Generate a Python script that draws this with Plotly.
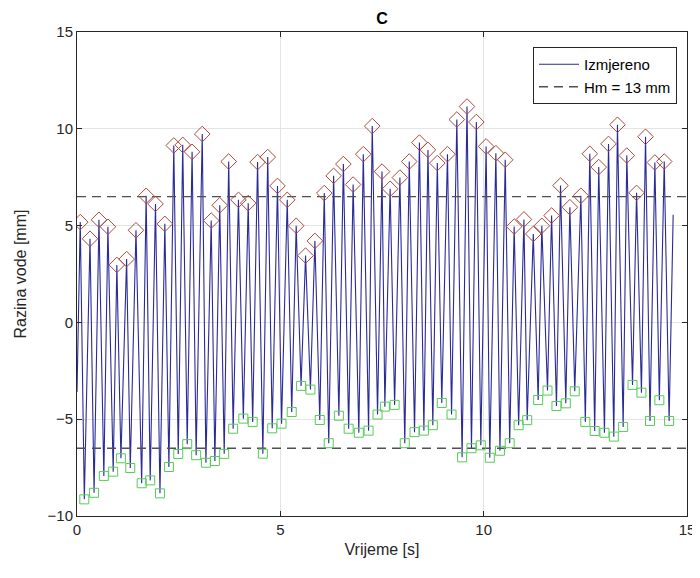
import plotly.graph_objects as go

# ---- data ----
peak_t = [0.08, 0.32, 0.54, 0.76, 0.98, 1.22, 1.45, 1.70, 1.93, 2.16, 2.38, 2.60, 2.83, 3.08,
          3.30, 3.51, 3.73, 3.97, 4.21, 4.44, 4.69, 4.93, 5.17, 5.39, 5.62, 5.85, 6.08, 6.31,
          6.55, 6.79, 7.04, 7.26, 7.50, 7.70, 7.94, 8.17, 8.42, 8.63, 8.86, 9.11, 9.34, 9.59,
          9.82, 10.06, 10.30, 10.53, 10.75, 10.99, 11.22, 11.43, 11.67, 11.89, 12.12, 12.39,
          12.61, 12.83, 13.07, 13.29, 13.52, 13.76, 13.98, 14.21, 14.44]
peak_v = [5.18, 4.32, 5.30, 4.94, 2.97, 3.27, 4.76, 6.54, 6.12, 5.09, 9.14, 9.17, 8.81, 9.73,
          5.26, 6.05, 8.31, 6.33, 6.16, 8.28, 8.54, 7.05, 6.33, 4.99, 3.45, 4.21, 6.68, 7.57,
          8.18, 7.12, 8.69, 10.14, 7.79, 6.90, 7.48, 8.31, 9.29, 8.91, 8.23, 8.69, 10.48, 11.15,
          10.35, 9.09, 8.74, 8.40, 4.95, 5.32, 4.57, 4.99, 5.52, 7.07, 5.95, 6.54,
          8.71, 8.02, 9.22, 10.21, 8.62, 6.69, 9.59, 8.26, 8.31]

trough_t = [0.18, 0.42, 0.66, 0.89, 1.08, 1.31, 1.59, 1.80, 2.04, 2.26, 2.49, 2.71, 2.93, 3.17,
            3.39, 3.62, 3.84, 4.09, 4.32, 4.57, 4.80, 5.03, 5.28, 5.51, 5.74, 5.97, 6.19, 6.44,
            6.68, 6.93, 7.17, 7.39, 7.57, 7.81, 8.06, 8.30, 8.53, 8.75, 8.97, 9.21, 9.47, 9.70,
            9.93, 10.15, 10.40, 10.64, 10.86, 11.07, 11.34, 11.57, 11.79, 12.02, 12.24, 12.50,
            12.73, 12.97, 13.20, 13.43, 13.66, 13.88, 14.09, 14.32, 14.56]
trough_v = [-9.14, -8.80, -7.93, -7.71, -7.02, -7.52, -8.31, -8.16, -8.83, -7.47, -6.80, -6.29,
            -6.86, -7.25, -7.16, -6.79, -5.49, -4.97, -5.14, -6.78, -5.47, -5.23, -4.63, -3.28,
            -3.47, -5.04, -6.24, -4.82, -5.49, -5.70, -5.59, -4.76, -4.35, -4.26, -6.24, -5.67,
            -5.59, -5.31, -4.16, -4.76, -6.97, -6.50, -6.35, -6.99, -6.63, -6.24, -5.31, -5.05,
            -4.01, -3.52, -4.32, -4.18, -3.56, -5.14, -5.61, -5.70, -5.90, -5.40, -3.23, -3.63,
            -5.09, -4.02, -5.09]

start_t, start_v = 0.0, -3.6
end_t, end_v = 14.66, 5.56

hm = 13.0            # wave height Hm [mm]
x_range = [0, 15]
y_range = [-10, 15]
x_ticks = [0, 5, 10, 15]
y_ticks = [-10, -5, 0, 5, 10, 15]

# measured signal: peaks and troughs in time order
sig_t = [start_t]
sig_v = [start_v]
for pt, pv, tt, tv in zip(peak_t, peak_v, trough_t, trough_v):
    sig_t += [pt, tt]
    sig_v += [pv, tv]
sig_t.append(end_t)
sig_v.append(end_v)

half = hm / 2

fig = go.Figure()
fig.add_trace(go.Scatter(
    x=sig_t, y=sig_v, mode="lines", name="Izmjereno",
    line=dict(color="#2a2a98", width=1.1)))
fig.add_trace(go.Scatter(
    x=[x_range[0], x_range[1], None, x_range[0], x_range[1]],
    y=[half, half, None, -half, -half], mode="lines",
    name="Hm = 13 mm",
    line=dict(color="#505050", width=1.3, dash="9px,6px")))
fig.add_trace(go.Scatter(
    x=peak_t, y=peak_v, mode="markers", showlegend=False,
    marker=dict(symbol="diamond-open", size=12, color="#a84a3c",
                line=dict(width=1, color="#a84a3c"))))
fig.add_trace(go.Scatter(
    x=trough_t, y=trough_v, mode="markers", showlegend=False,
    marker=dict(symbol="square-open", size=9, color="#55cc55",
                line=dict(width=1, color="#55cc55"))))

axis_common = dict(
    showgrid=True, gridcolor="#e4e4e4", gridwidth=1,
    showline=True, linecolor="#262626", linewidth=1, mirror="ticks",
    ticks="inside", ticklen=5, tickcolor="#262626",
    zeroline=False, automargin=False, ticklabeloverflow="allow",
    tickfont=dict(family="Liberation Sans, Arial", size=15, color="#262626"),
)

# the page body has an 8px margin: keep the figure inside the window
fig.update_layout(
    width=692, height=550,
    margin=dict(l=69, r=13, t=24, b=42, autoexpand=False),
    paper_bgcolor="white", plot_bgcolor="white",
    title=dict(text="<b>C</b>", x=0.5405, xanchor="center", y=0.9818, yanchor="middle",
               font=dict(family="Liberation Sans, Arial", size=16, color="black")),
    xaxis=dict(range=x_range, tickvals=x_ticks,
               title=dict(text="Vrijeme [s]", standoff=6,
                          font=dict(family="Liberation Sans, Arial", size=16, color="#262626")),
               **axis_common),
    yaxis=dict(range=y_range, tickvals=y_ticks,
               title=dict(text="Razina vode [mm]", standoff=16,
                          font=dict(family="Liberation Sans, Arial", size=16, color="#262626")),
               **axis_common),
    legend=dict(x=0.9836, y=0.969, xanchor="right", yanchor="top",
                bgcolor="white", bordercolor="#262626", borderwidth=1,
                font=dict(family="Liberation Sans, Arial", size=15, color="black"),
                itemwidth=40, tracegroupgap=0),
    showlegend=True,
)

fig.write_html("out.html")
